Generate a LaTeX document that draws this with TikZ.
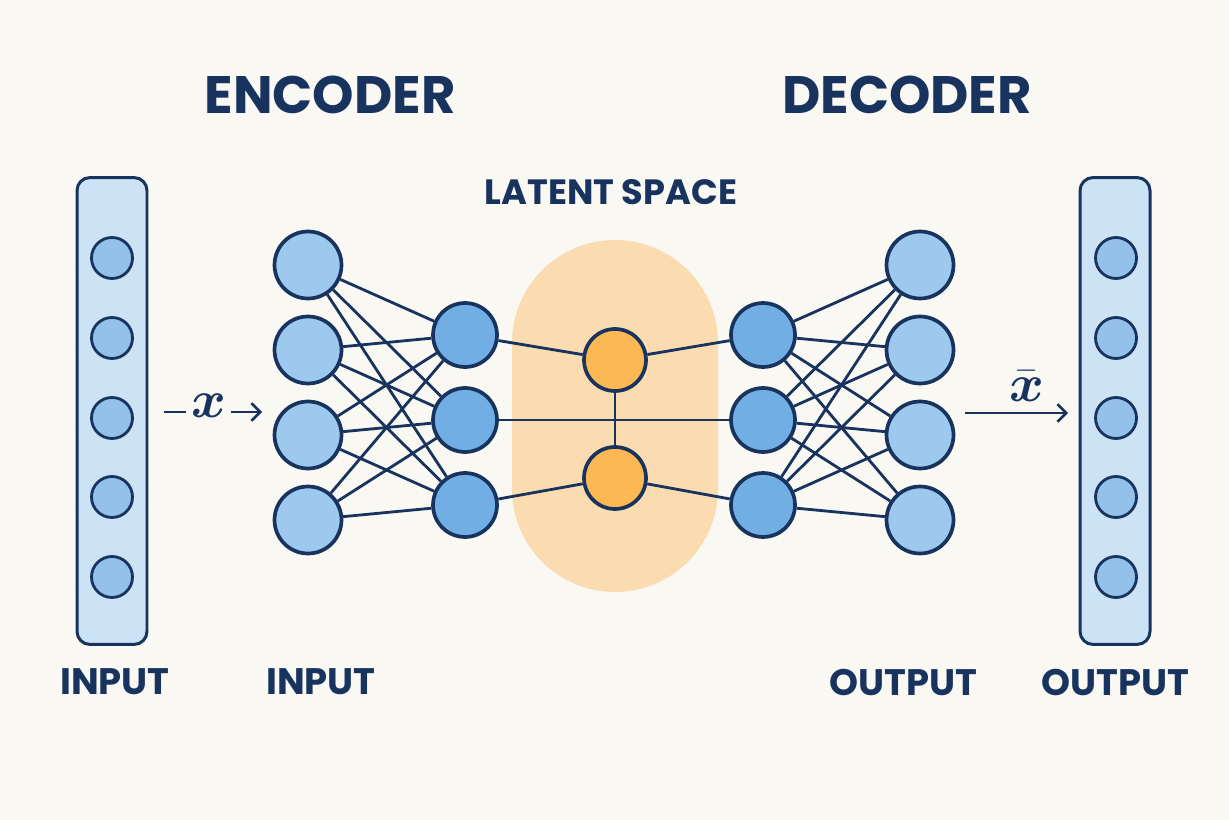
\documentclass[tikz,border=0pt]{standalone}
\usepackage{amsmath}
\usepackage{fontspec}
\setmainfont{Poppins}
\usetikzlibrary{arrows.meta}

\definecolor{paper}{HTML}{FAF8F3}
\definecolor{navy}{HTML}{17335E}
\definecolor{inblue}{HTML}{9DC9EE}
\definecolor{hidblue}{HTML}{71AEE4}
\definecolor{colfill}{HTML}{CCE3F6}
\definecolor{colblue}{HTML}{93C1E9}
\definecolor{latorange}{HTML}{FBB853}
\definecolor{latbg}{HTML}{FBDCB1}

\begin{document}
\begin{tikzpicture}[x=0.02cm, y=-0.02cm]
		\tikzset{InNode/.style = {circle, draw=navy, line width=2.1pt, fill=inblue, minimum size=1.34cm, inner sep=0pt},
			HidNode/.style = {circle, draw=navy, line width=2.1pt, fill=hidblue, minimum size=1.28cm, inner sep=0pt},
			LatNode/.style = {circle, draw=navy, line width=2.1pt, fill=latorange, minimum size=1.24cm, inner sep=0pt},
			ColBox/.style = {rectangle, rounded corners=0.26cm, draw=navy, line width=1.7pt, fill=colfill, minimum width=1.4cm, minimum height=9.34cm},
			ColNode/.style = {circle, draw=navy, line width=1.6pt, fill=colblue, minimum size=0.82cm, inner sep=0pt},
			Wire/.style = {navy, line width=1.6pt},
			Arr/.style = {navy, line width=1.5pt, -{Straight Barb[length=5pt, width=10pt]}},
			Title/.style = {text=navy, font=\fontsize{30}{36}\selectfont\bfseries},
			Caption/.style = {text=navy, font=\fontsize{21}{25}\selectfont\bfseries},
			MathLab/.style = {text=navy, font=\huge, scale=1.45, inner sep=1pt}}
		\fill[paper] (0,0) rectangle (1229,820);
		\useasboundingbox (0,0) rectangle (1229,820);

		% latent space blob
		\fill[latbg] (512,240) [rounded corners=2.06cm] rectangle (718,592);

		% titles
		\node[Title] (enc) at (330,95) {ENCODER};
		\node[Title] (dec) at (907,95) {DECODER};
		\node[text=navy, font=\fontsize{20}{24}\selectfont\bfseries] (lat) at (611,192) {LATENT SPACE};

		% input column
		\node[ColBox] (incol) at (112,411) {};
		\node[ColNode] (A1) at (112,258) {};
		\node[ColNode] (A2) at (112,338) {};
		\node[ColNode] (A3) at (112,418) {};
		\node[ColNode] (A4) at (112,497) {};
		\node[ColNode] (A5) at (112,577) {};

		% output column
		\node[ColBox] (outcol) at (1115,411) {};
		\node[ColNode] (B1) at (1116,258) {};
		\node[ColNode] (B2) at (1116,338) {};
		\node[ColNode] (B3) at (1116,418) {};
		\node[ColNode] (B4) at (1116,497) {};
		\node[ColNode] (B5) at (1116,577) {};

		% encoder
		\node[InNode] (I1) at (308,265) {};
		\node[InNode] (I2) at (308,350) {};
		\node[InNode] (I3) at (308,435) {};
		\node[InNode] (I4) at (308,520) {};
		\node[HidNode] (H1) at (465,335) {};
		\node[HidNode] (H2) at (465,420) {};
		\node[HidNode] (H3) at (465,505) {};

		% latent
		\node[LatNode] (L1) at (615,360) {};
		\node[LatNode] (L2) at (615,478) {};

		% decoder
		\node[HidNode] (D1) at (763,335) {};
		\node[HidNode] (D2) at (763,420) {};
		\node[HidNode] (D3) at (763,505) {};
		\node[InNode] (O1) at (920,265) {};
		\node[InNode] (O2) at (920,350) {};
		\node[InNode] (O3) at (920,435) {};
		\node[InNode] (O4) at (920,520) {};

		\draw[Wire] (I1) -- (H1);
		\draw[Wire] (I1) -- (H2);
		\draw[Wire] (I1) -- (H3);
		\draw[Wire] (I2) -- (H1);
		\draw[Wire] (I2) -- (H2);
		\draw[Wire] (I2) -- (H3);
		\draw[Wire] (I3) -- (H1);
		\draw[Wire] (I3) -- (H2);
		\draw[Wire] (I3) -- (H3);
		\draw[Wire] (I4) -- (H1);
		\draw[Wire] (I4) -- (H2);
		\draw[Wire] (I4) -- (H3);

		\draw[Wire] (H1) -- (L1);
		\draw[Wire] (H2) -- (D2);
		\draw[Wire] (H3) -- (L2);
		\draw[Wire] (L1) -- (L2);
		\draw[Wire] (L1) -- (D1);
		\draw[Wire] (L2) -- (D3);

		\draw[Wire] (D1) -- (O1);
		\draw[Wire] (D1) -- (O2);
		\draw[Wire] (D1) -- (O3);
		\draw[Wire] (D1) -- (O4);
		\draw[Wire] (D2) -- (O1);
		\draw[Wire] (D2) -- (O2);
		\draw[Wire] (D2) -- (O3);
		\draw[Wire] (D2) -- (O4);
		\draw[Wire] (D3) -- (O1);
		\draw[Wire] (D3) -- (O2);
		\draw[Wire] (D3) -- (O3);
		\draw[Wire] (D3) -- (O4);

		% signal in and out
		\node[MathLab] (xlab) at (209,406) {$\boldsymbol{x}$};
		\coordinate (xs) at (164,412);
		\coordinate (xm) at (186,412);
		\coordinate (xa) at (231,412);
		\coordinate (xe) at (262,412);
		\draw[navy, line width=1.5pt] (xs) -- (xm);
		\draw[Arr] (xa) -- (xe);
		\coordinate (ys) at (965,413);
		\coordinate (ye) at (1068,413);
		\draw[Arr] (ys) -- (ye);
		\node[MathLab] (xbar) at (1027,386) {$\bar{\boldsymbol{x}}$};

		% captions
		\node[Caption] (c1) at (115,682) {INPUT};
		\node[Caption] (c2) at (321,682) {INPUT};
		\node[Caption] (c3) at (903,682) {OUTPUT};
		\node[Caption] (c4) at (1115,682) {OUTPUT};
\end{tikzpicture}
\end{document}
